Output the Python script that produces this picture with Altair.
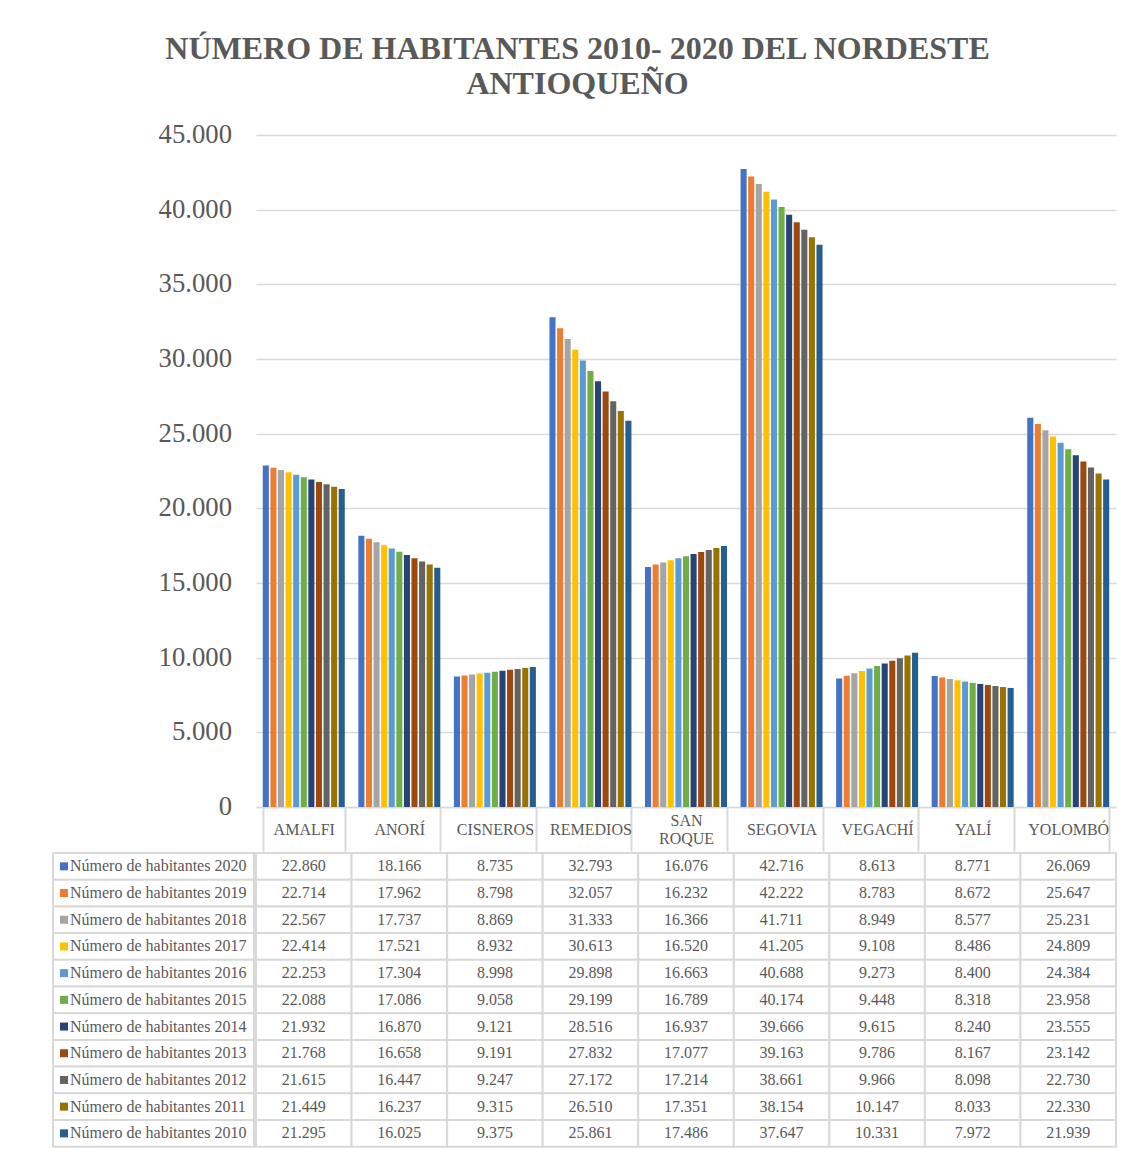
import altair as alt
import pandas as pd

FONT = "Liberation Serif"
GRAY_TXT = "#595959"
GRAY_LINE = "#d9d9d9"

title_lines = ["NÚMERO DE HABITANTES 2010- 2020 DEL NORDESTE", "ANTIOQUEÑO"]
municipios = ["AMALFI", "ANORÍ", "CISNEROS", "REMEDIOS", "SAN ROQUE",
              "SEGOVIA", "VEGACHÍ", "YALÍ", "YOLOMBÓ"]
anios = [2020, 2019, 2018, 2017, 2016, 2015, 2014, 2013, 2012, 2011, 2010]
series = [f"Número de habitantes {a}" for a in anios]
colors = ["#4472C4", "#ED7D31", "#A5A5A5", "#FFC000", "#5B9BD5", "#70AD47",
          "#264478", "#9E480E", "#636363", "#997300", "#255E91"]

hab_2020 = [22860, 18166, 8735, 32793, 16076, 42716, 8613, 8771, 26069]
hab_2019 = [22714, 17962, 8798, 32057, 16232, 42222, 8783, 8672, 25647]
hab_2018 = [22567, 17737, 8869, 31333, 16366, 41711, 8949, 8577, 25231]
hab_2017 = [22414, 17521, 8932, 30613, 16520, 41205, 9108, 8486, 24809]
hab_2016 = [22253, 17304, 8998, 29898, 16663, 40688, 9273, 8400, 24384]
hab_2015 = [22088, 17086, 9058, 29199, 16789, 40174, 9448, 8318, 23958]
hab_2014 = [21932, 16870, 9121, 28516, 16937, 39666, 9615, 8240, 23555]
hab_2013 = [21768, 16658, 9191, 27832, 17077, 39163, 9786, 8167, 23142]
hab_2012 = [21615, 16447, 9247, 27172, 17214, 38661, 9966, 8098, 22730]
hab_2011 = [21449, 16237, 9315, 26510, 17351, 38154, 10147, 8033, 22330]
hab_2010 = [21295, 16025, 9375, 25861, 17486, 37647, 10331, 7972, 21939]

y_ticks = [0, 5000, 10000, 15000, 20000, 25000, 30000, 35000, 40000, 45000]
y_labels = ["0", "5.000", "10.000", "15.000", "20.000", "25.000",
            "30.000", "35.000", "40.000", "45.000"]

all_values = [hab_2020, hab_2019, hab_2018, hab_2017, hab_2016, hab_2015,
              hab_2014, hab_2013, hab_2012, hab_2011, hab_2010]
rows = []
for s, vals in zip(series, all_values):
    for m, v in zip(municipios, vals):
        rows.append({"serie": s, "municipio": m, "valor": v})
df = pd.DataFrame(rows)
ticks_df = pd.DataFrame({"v": y_ticks, "lab": y_labels})
legend_df = pd.DataFrame({"serie": series})

PLOT_W = 860
PLOT_H = 672
LEG_W = 201
ROW_H = 26.7
TABLE_H = ROW_H * len(series)

color_scale = alt.Scale(domain=series, range=colors)
y_scale = alt.Scale(domain=[0, 45000], nice=False, zero=True)

# y-axis labels column
ylab = alt.Chart(ticks_df).mark_text(
    align="right", baseline="middle", font=FONT, fontSize=26.7, color=GRAY_TXT
).encode(
    y=alt.Y("v:Q", scale=y_scale, axis=None),
    x=alt.value(LEG_W - 22),
    text="lab:N",
).properties(width=LEG_W, height=PLOT_H)

bars = alt.Chart(df).mark_bar().encode(
    x=alt.X(
        "municipio:N", sort=municipios,
        scale=alt.Scale(domain=municipios, paddingInner=0.142, paddingOuter=0.071),
        axis=alt.Axis(
            title=None, orient="bottom", labelAngle=0,
            labelExpr="split(datum.label, ' ')",
            tickBand="extent", tickSize=44, tickColor=GRAY_LINE, tickWidth=2,
            domainColor=GRAY_LINE, domainWidth=1.5,
            labelPadding=-22,
            labelBaseline={"condition": {"test": "datum.value == 'SAN ROQUE'",
                                         "value": "line-bottom"},
                           "value": "middle"},
            labelLineHeight=18,
            labelFont=FONT, labelFontSize=16, labelColor=GRAY_TXT,
        ),
    ),
    xOffset=alt.XOffset("serie:N", sort=series,
                        scale=alt.Scale(domain=series, paddingInner=0.2)),
    y=alt.Y(
        "valor:Q", scale=y_scale,
        axis=alt.Axis(title=None, values=y_ticks, labels=False, ticks=False,
                      domain=False, grid=True, gridColor=GRAY_LINE, gridWidth=1.5),
    ),
    color=alt.Color("serie:N", scale=color_scale, legend=None),
).properties(width=PLOT_W, height=PLOT_H)

row_scale = alt.Scale(domain=series, paddingInner=0, paddingOuter=0)

leg_base = alt.Chart(legend_df).encode(
    y=alt.Y("serie:N", sort=series, scale=row_scale, axis=None)
)
leg_cells = leg_base.mark_rect(fill="white", stroke=GRAY_LINE, strokeWidth=2)
leg_sq = leg_base.mark_point(shape="square", filled=True, size=64, opacity=1).encode(
    x=alt.value(11),
    color=alt.Color("serie:N", scale=color_scale, legend=None),
)
leg_txt = leg_base.mark_text(
    align="left", baseline="middle", font=FONT, fontSize=16, color=GRAY_TXT
).encode(x=alt.value(17), text="serie:N")
legend_col = alt.layer(leg_cells, leg_sq, leg_txt).properties(width=LEG_W, height=TABLE_H)

tab_base = alt.Chart(df).transform_calculate(
    txt="replace(format(datum.valor, ','), ',', '.')"
).encode(
    x=alt.X("municipio:N", sort=municipios,
            scale=alt.Scale(domain=municipios, paddingInner=0, paddingOuter=0),
            axis=None),
    y=alt.Y("serie:N", sort=series, scale=row_scale, axis=None),
)
tab_cells = tab_base.mark_rect(fill="white", stroke=GRAY_LINE, strokeWidth=2)
tab_txt = tab_base.mark_text(
    align="center", baseline="middle", font=FONT, fontSize=16, color=GRAY_TXT
).encode(text="txt:N")
table = alt.layer(tab_cells, tab_txt).properties(width=PLOT_W, height=TABLE_H)

chart = alt.concat(
    ylab, bars, legend_col, table, columns=2, spacing=0
).properties(
    title=alt.TitleParams(
        text=title_lines, font=FONT, fontSize=32, fontWeight="bold",
        color=GRAY_TXT, anchor="middle", lineHeight=35, offset=21, dx=-7,
    ),
    padding={"left": 44, "top": 25, "right": 5, "bottom": 2},
    background="white",
).configure_view(stroke=None)

chart.save("out.html", embed_options={"renderer": "svg", "actions": False})
